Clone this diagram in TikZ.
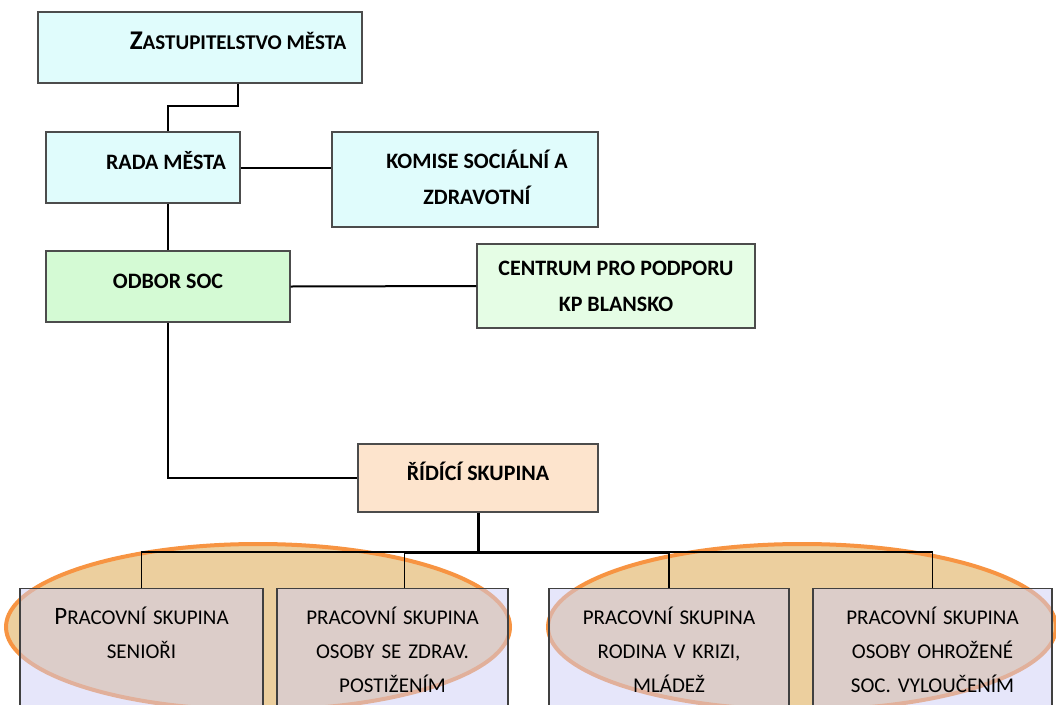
\documentclass[tikz,border=0pt]{standalone}
\usepackage{fontspec}
\setmainfont{Carlito}
\definecolor{mestocyan}{RGB}{224,252,252}
\definecolor{odborgreen}{RGB}{212,250,212}
\definecolor{centrumgreen}{RGB}{229,253,229}
\definecolor{ridicipeach}{RGB}{253,228,205}
\definecolor{pracelilac}{RGB}{205,205,245}
\definecolor{ovalline}{RGB}{247,148,66}
\definecolor{ovalfill}{RGB}{236,207,158}
\tikzset{
  orgbox/.style={draw=black!70, line width=1.3pt, inner sep=0pt, align=center,
    font=\fontsize{22}{36}\selectfont\bfseries},
  oneline/.style={text height=12pt, text depth=8pt},
  pracebox/.style={draw=black!75, line width=1.3pt, fill=pracelilac, fill opacity=0.5,
    text opacity=1, inner sep=0pt, anchor=north, align=center, text height=36pt,
    text depth=96pt, font=\fontsize{21}{34}\selectfont},
  conn/.style={draw=black, line width=2pt},
  oval/.style={draw=ovalline, line width=4pt, fill=ovalfill}
}
\begin{document}
\begin{tikzpicture}[x=1pt, y=-1pt]
      \useasboundingbox (0,0) rectangle (1056,704);
      \clip (0,0) rectangle (1056,704);
      %
      \draw[oval] (258,627) ellipse (252 and 83);   % left oval
      \draw[oval] (802,627) ellipse (254 and 83);   % right oval
      %
      \node[orgbox, oneline, fill=mestocyan, minimum width=324pt, minimum height=71pt] (zast) at (200,47.5)
        {\hspace*{76pt}{\fontsize{27}{30}\selectfont Z}{\fontsize{21}{24}\selectfont ASTUPITELSTVO MĚSTA}}; % top
      \node[orgbox, oneline, fill=mestocyan, minimum width=194pt, minimum height=71pt] (rada) at (143,167.5)
        {\hspace*{46pt}RADA MĚSTA};
      \node[orgbox, fill=mestocyan, minimum width=266pt, minimum height=95pt] (komise) at (465,179.5)
        {\hspace*{24pt}\raisebox{5pt}{KOMISE SOCIÁLNÍ A}\\\hspace*{24pt}\raisebox{5pt}{ZDRAVOTNÍ}};
      %
      \node[orgbox, oneline, fill=odborgreen, minimum width=244pt, minimum height=71pt] (odbor) at (168,286.5) {ODBOR SOC};
      \node[orgbox, fill=centrumgreen, minimum width=278pt, minimum height=84pt] (centrum) at (616,286)
        {\raisebox{-4pt}{CENTRUM PRO PODPORU}\\\raisebox{-4pt}{KP BLANSKO}};
      \node[orgbox, oneline, fill=ridicipeach, minimum width=240pt, minimum height=68pt] (ridici) at (478,478) {ŘÍDÍCÍ SKUPINA};
      %
      \node[pracebox, text width=243pt] (prace1) at (141.5,588)
        {{\fontsize{25}{34}\selectfont P}RACOVNÍ SKUPINA\\SENIOŘI};          % working groups
      \node[pracebox, text width=231pt] (prace2) at (392.5,588)
        {PRACOVNÍ SKUPINA\\OSOBY SE ZDRAV.\\POSTIŽENÍM};
      \node[pracebox, text width=240pt] (prace3) at (669,588)
        {PRACOVNÍ SKUPINA\\RODINA V KRIZI,\\MLÁDEŽ};
      \node[pracebox, text width=239pt] (prace4) at (932.5,588)
        {PRACOVNÍ SKUPINA\\OSOBY OHROŽENÉ\\SOC. VYLOUČENÍM};
      %
      \draw[conn] ([xshift=38pt]zast.south) -- ++(0,22) -| (odbor.north |- rada.north); % links
      \draw[conn] (rada.east) -- (komise.west |- rada.east);
      \draw[conn] (odbor.north |- rada.south) -- (odbor.north);
      \draw[conn] (odbor.east) -- (centrum.west);
      \draw[conn] (odbor.south) |- (ridici.west);
      %
      \coordinate (bar) at (478,552);
      \draw[conn, line width=3pt] (ridici.south) -- (bar);
      \draw[conn, line width=3pt] ([xshift=12pt]prace2.north |- bar) -- (prace3.north |- bar);
      \draw[conn, line width=1.6pt] (prace1.north) |- ([xshift=12pt]prace2.north |- bar) -- ([xshift=12pt]prace2.north);
      \draw[conn, line width=1.6pt] (prace4.north) |- (prace3.north |- bar) -- (prace3.north);
      %
    \end{tikzpicture}
\end{document}
